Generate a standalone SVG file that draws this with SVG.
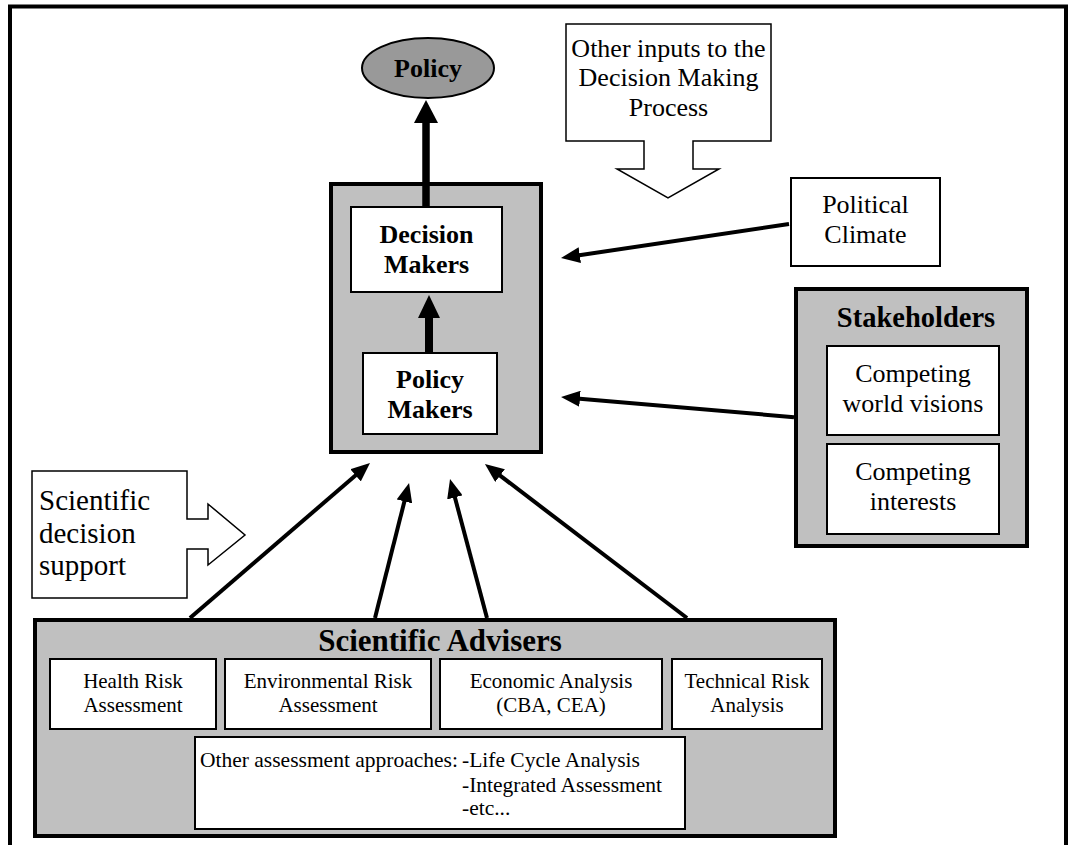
<svg xmlns="http://www.w3.org/2000/svg" width="1071" height="845" viewBox="0 0 1071 845">
<defs>
<style>
text{font-family:"Liberation Serif","Times New Roman",serif;fill:#000;text-anchor:middle}
.b{font-weight:bold}
.f26{font-size:26px}
.f29{font-size:29px}
.f21{font-size:21px}
.grp{fill:#c0c0c0;stroke:#000;stroke-width:4}
.box{fill:#fff;stroke:#000;stroke-width:2}
.blk{fill:#fff;stroke:#000;stroke-width:1.5}
.thin{stroke:#000;stroke-width:4;fill:none;marker-end:url(#ah)}
.thick{stroke:#000;fill:none}
.l{text-anchor:start}
</style>
<marker id="ah" markerUnits="userSpaceOnUse" viewBox="0 0 19 16" markerWidth="19" markerHeight="16" refX="9" refY="8" orient="auto">
<path d="M0,0 L19,8 L0,16 z" fill="#000"/>
</marker>
</defs>
<rect width="1071" height="845" fill="#fff"/>
<path d="M10,845 V6.5 H1066 V845" fill="none" stroke="#000" stroke-width="4"/>

<g id="policy">
<ellipse cx="428" cy="68" rx="66" ry="30" fill="#999" stroke="#000" stroke-width="2"/>
<text x="428" y="77" class="b f26">Policy</text>
</g>

<g id="decision-group">
<rect class="grp" x="331" y="184" width="210" height="268"/>
</g>
<g id="decision-makers">
<rect class="box" x="351" y="207" width="151" height="85"/>
<text x="426.5" y="243" class="b f26">Decision</text>
<text x="426.5" y="273" class="b f26">Makers</text>
</g>
<g id="policy-makers">
<rect class="box" x="363" y="353" width="134" height="81"/>
<text x="430" y="388" class="b f26">Policy</text>
<text x="430" y="418" class="b f26">Makers</text>
</g>

<g id="other-inputs">
<path class="blk" d="M566,24 H771 V141 H693 V169 H719 L668,198 L617,169 H644 V141 H566 Z"/>
<text x="668.5" y="57" class="f26">Other inputs to the</text>
<text x="668.5" y="86" class="f26">Decision Making</text>
<text x="668.5" y="116" class="f26">Process</text>
</g>

<g id="political-climate">
<rect class="box" x="791" y="178" width="149" height="88"/>
<text x="865.5" y="213" class="f26">Political</text>
<text x="865.5" y="243" class="f26">Climate</text>
</g>

<g id="stakeholders">
<rect class="grp" x="796" y="289" width="231" height="257"/>
<text x="916" y="327" style="font-size:28.5px" class="b">Stakeholders</text>
</g>
<g id="world-visions">
<rect class="box" x="827" y="346" width="172" height="89"/>
<text x="913" y="382" class="f26">Competing</text>
<text x="913" y="412" class="f26">world visions</text>
</g>
<g id="interests">
<rect class="box" x="827" y="444" width="172" height="90"/>
<text x="913" y="480" class="f26">Competing</text>
<text x="913" y="510" class="f26">interests</text>
</g>

<g id="scientific-decision-support">
<path class="blk" d="M32,471 H187 V519 H208 V504 L245,535 L208,565 V549 H187 V598 H32 Z"/>
<text x="39" y="510" class="f29 l">Scientific</text>
<text x="39" y="543" class="f29 l">decision</text>
<text x="39" y="575" class="f29 l">support</text>
</g>

<g id="scientific-advisers">
<rect class="grp" x="35" y="620" width="800" height="216"/>
<text x="440" y="651" style="font-size:31px" class="b">Scientific Advisers</text>
</g>
<g id="health-risk">
<rect class="box" x="50" y="659" width="166" height="70"/>
<text x="133" y="688" class="f21">Health Risk</text>
<text x="133" y="712" class="f21">Assessment</text>
</g>
<g id="environmental-risk">
<rect class="box" x="225" y="659" width="206" height="70"/>
<text x="328" y="688" class="f21">Environmental Risk</text>
<text x="328" y="712" class="f21">Assessment</text>
</g>
<g id="economic-analysis">
<rect class="box" x="440" y="659" width="222" height="70"/>
<text x="551" y="688" class="f21">Economic Analysis</text>
<text x="551" y="712" class="f21">(CBA, CEA)</text>
</g>
<g id="technical-risk">
<rect class="box" x="672" y="659" width="150" height="70"/>
<text x="747" y="688" class="f21">Technical Risk</text>
<text x="747" y="712" class="f21">Analysis</text>
</g>
<g id="other-assessment">
<rect class="box" x="195" y="737" width="490" height="92"/>
<text x="200" y="767" style="font-size:21.5px" class="l">Other assessment approaches:</text>
<text x="462" y="767" style="font-size:21.5px" class="l">-Life Cycle Analysis</text>
<text x="462" y="792" style="font-size:21.5px" class="l">-Integrated Assessment</text>
<text x="462" y="815" style="font-size:21.5px" class="l">-etc...</text>
</g>

<g id="connectors">
<line class="thick" x1="426" y1="207" x2="426" y2="121" stroke-width="7.5"/>
<polygon points="414,123 438,123 426,100" fill="#000"/>
<line class="thick" x1="429" y1="353" x2="429" y2="316" stroke-width="8"/>
<polygon points="418,318 440,318 429,295" fill="#000"/>
<line class="thin" x1="789" y1="224" x2="570.9" y2="256.5"/>
<line class="thin" x1="794" y1="417.2" x2="571" y2="397.9"/>
<line class="thin" x1="190" y1="618" x2="362.4" y2="469.5"/>
<line class="thin" x1="375" y1="618" x2="406.6" y2="492.7"/>
<line class="thin" x1="487" y1="618" x2="452.6" y2="488.7"/>
<line class="thin" x1="687" y1="618" x2="492.9" y2="470.1"/>
</g>
</svg>
